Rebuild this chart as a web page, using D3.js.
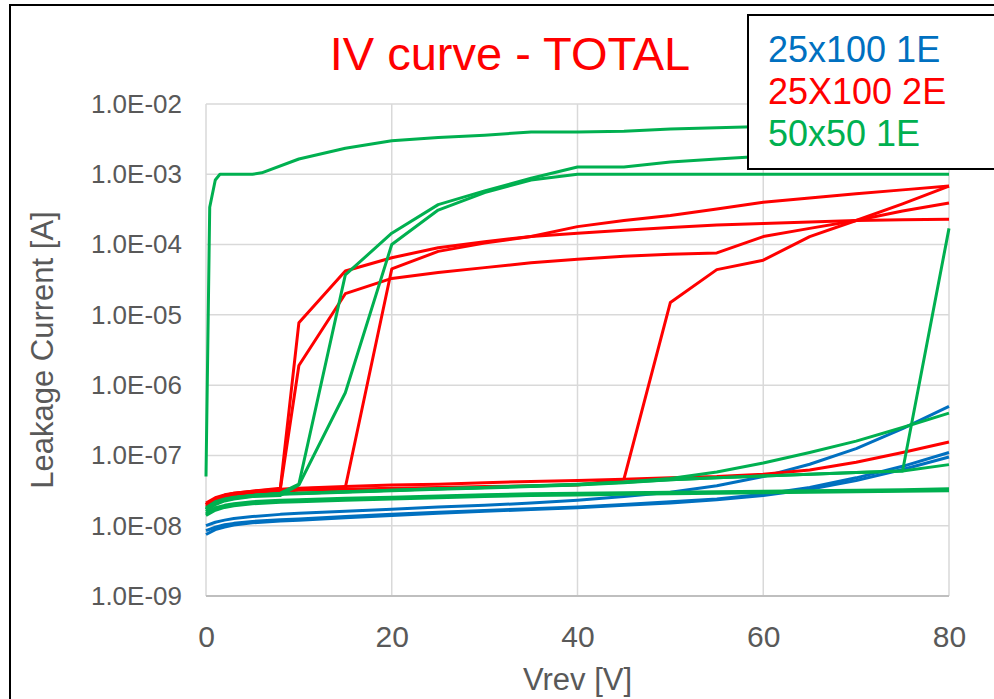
<!DOCTYPE html>
<html>
<head>
	<meta charset="utf-8">
	<title>IV curve - TOTAL</title>
	<script type="text/javascript" src="https://cdn.jsdelivr.net/npm/d3@7"></script>
	<style type="text/css">
		body {
			margin: 0;
			background: #ffffff;
		}
		text {
			font-family: "Liberation Sans", Arial, sans-serif;
		}
	</style>
</head>

<body>
	<div id="svgdiv"></div>

	<script type="text/javascript">
		// sweep voltages (V)
		var vSweep = [0, 1, 2, 3, 5, 8, 10, 15, 20, 25, 30, 35, 40, 45, 50, 55, 60, 65, 70, 75, 80];
		var vFast  = [0, 0.4, 1, 1.5, 5, 6, 10, 15, 20, 25, 30, 35, 40, 45, 50, 55, 60, 65, 70, 75, 80];

		// 25x100 1E (blue)
		var blue1 = [1.0e-8, 1.12e-8, 1.2e-8, 1.27e-8, 1.35e-8, 1.45e-8, 1.5e-8, 1.6e-8, 1.72e-8, 1.85e-8, 1.95e-8, 2.1e-8, 2.3e-8, 2.6e-8, 3.0e-8, 3.7e-8, 5.0e-8, 7.5e-8, 1.25e-7, 2.4e-7, 5.0e-7];
		var blue2 = [8.5e-9, 9.5e-9, 1.03e-8, 1.08e-8, 1.15e-8, 1.22e-8, 1.25e-8, 1.35e-8, 1.45e-8, 1.55e-8, 1.65e-8, 1.75e-8, 1.85e-8, 2.0e-8, 2.2e-8, 2.4e-8, 2.8e-8, 3.5e-8, 4.8e-8, 7.0e-8, 1.1e-7];
		var blue3 = [7.5e-9, 8.8e-9, 9.6e-9, 1.02e-8, 1.1e-8, 1.17e-8, 1.2e-8, 1.3e-8, 1.4e-8, 1.5e-8, 1.6e-8, 1.7e-8, 1.8e-8, 1.95e-8, 2.1e-8, 2.35e-8, 2.7e-8, 3.3e-8, 4.4e-8, 6.3e-8, 9.5e-8];

		// 25X100 2E (red)
		var redA = [2.1e-8, 2.5e-8, 2.75e-8, 2.9e-8, 3.1e-8, 3.4e-8, 7.7e-6, 4.2e-5, 6.5e-5, 9.0e-5, 1.1e-4, 1.3e-4, 1.8e-4, 2.2e-4, 2.6e-4, 3.2e-4, 4.0e-4, 4.6e-4, 5.3e-4, 6.0e-4, 6.8e-4];
		var redB = [1.9e-8, 2.4e-8, 2.65e-8, 2.8e-8, 3.0e-8, 3.3e-8, 1.9e-6, 2.0e-5, 3.3e-5, 4.0e-5, 4.7e-5, 5.5e-5, 6.2e-5, 6.8e-5, 7.3e-5, 7.6e-5, 1.3e-4, 1.7e-4, 2.2e-4, 3.0e-4, 3.9e-4];
		var redC = [2.0e-8, 2.35e-8, 2.6e-8, 2.75e-8, 2.95e-8, 3.1e-8, 3.2e-8, 3.3e-8, 3.4e-8, 3.5e-8, 3.6e-8, 3.7e-8, 3.8e-8, 4.6e-8, 1.5e-5, 4.4e-5, 6.0e-5, 1.3e-4, 2.2e-4, 3.8e-4, 6.8e-4];
		var redD = [2.0e-8, 2.4e-8, 2.7e-8, 2.85e-8, 3.05e-8, 3.25e-8, 3.35e-8, 3.5e-8, 4.5e-5, 8.0e-5, 1.05e-4, 1.3e-4, 1.45e-4, 1.6e-4, 1.75e-4, 1.9e-4, 2.0e-4, 2.1e-4, 2.2e-4, 2.25e-4, 2.3e-4];
		var redE = [2.0e-8, 2.4e-8, 2.7e-8, 2.9e-8, 3.1e-8, 3.3e-8, 3.4e-8, 3.6e-8, 3.8e-8, 3.9e-8, 4.1e-8, 4.25e-8, 4.4e-8, 4.6e-8, 4.8e-8, 5.0e-8, 5.4e-8, 6.2e-8, 8.0e-8, 1.1e-7, 1.55e-7];

		// 50x50 1E (green)
		var green1 = [5.0e-8, 3.4e-4, 8.3e-4, 1.0e-3, 1.0e-3, 1.05e-3, 1.65e-3, 2.35e-3, 3.0e-3, 3.35e-3, 3.6e-3, 4.0e-3, 4.0e-3, 4.1e-3, 4.4e-3, 4.6e-3, 4.8e-3, 5.0e-3, 5.2e-3, 5.4e-3, 5.6e-3];
		var green2 = [1.7e-8, 2.1e-8, 2.35e-8, 2.5e-8, 2.7e-8, 2.9e-8, 3.9e-8, 3.7e-5, 1.45e-4, 3.7e-4, 5.8e-4, 8.8e-4, 1.27e-3, 1.27e-3, 1.5e-3, 1.65e-3, 1.8e-3, 1.9e-3, 2.0e-3, 2.1e-3, 2.2e-3];
		var green3 = [1.6e-8, 2.0e-8, 2.25e-8, 2.4e-8, 2.6e-8, 2.7e-8, 3.8e-8, 7.8e-7, 1.0e-4, 3.1e-4, 5.5e-4, 8.3e-4, 1.0e-3, 1.0e-3, 1.0e-3, 1.0e-3, 1.0e-3, 1.0e-3, 1.0e-3, 1.0e-3, 1.0e-3];
		var green4 = [1.7e-8, 2.1e-8, 2.3e-8, 2.45e-8, 2.65e-8, 2.8e-8, 2.85e-8, 3.0e-8, 3.15e-8, 3.3e-8, 3.45e-8, 3.6e-8, 3.8e-8, 4.1e-8, 4.5e-8, 4.8e-8, 5.1e-8, 5.4e-8, 5.7e-8, 6.0e-8, 1.7e-4];
		var green5 = [1.8e-8, 2.2e-8, 2.4e-8, 2.55e-8, 2.7e-8, 2.85e-8, 2.9e-8, 3.05e-8, 3.2e-8, 3.35e-8, 3.5e-8, 3.7e-8, 3.9e-8, 4.2e-8, 4.7e-8, 5.8e-8, 7.8e-8, 1.1e-7, 1.6e-7, 2.5e-7, 4.0e-7];
		var green6 = [1.75e-8, 2.15e-8, 2.35e-8, 2.5e-8, 2.7e-8, 2.85e-8, 2.9e-8, 3.05e-8, 3.2e-8, 3.35e-8, 3.5e-8, 3.65e-8, 3.85e-8, 4.15e-8, 4.5e-8, 4.8e-8, 5.1e-8, 5.4e-8, 5.7e-8, 6.0e-8, 7.4e-8];
		var green7 = [1.5e-8, 1.8e-8, 1.95e-8, 2.05e-8, 2.2e-8, 2.3e-8, 2.35e-8, 2.45e-8, 2.55e-8, 2.65e-8, 2.75e-8, 2.85e-8, 2.9e-8, 2.95e-8, 3.0e-8, 3.05e-8, 3.1e-8, 3.15e-8, 3.2e-8, 3.25e-8, 3.35e-8];
		var green8 = [1.45e-8, 1.72e-8, 1.88e-8, 1.98e-8, 2.12e-8, 2.22e-8, 2.28e-8, 2.38e-8, 2.48e-8, 2.58e-8, 2.68e-8, 2.76e-8, 2.82e-8, 2.88e-8, 2.93e-8, 2.98e-8, 3.03e-8, 3.08e-8, 3.13e-8, 3.18e-8, 3.25e-8];
		var green9 = [1.4e-8, 1.66e-8, 1.82e-8, 1.92e-8, 2.05e-8, 2.15e-8, 2.2e-8, 2.3e-8, 2.4e-8, 2.5e-8, 2.6e-8, 2.68e-8, 2.74e-8, 2.8e-8, 2.85e-8, 2.9e-8, 2.95e-8, 3.0e-8, 3.05e-8, 3.1e-8, 3.15e-8];

		// tick labels
		var xTicks = [0, 20, 40, 60, 80];
		var yTicks = [1e-9, 1e-8, 1e-7, 1e-6, 1e-5, 1e-4, 1e-3, 1e-2];
		var legendNames = ["25x100 1E", "25X100 2E", "50x50 1E"];
		var legendColors = ["#0070c0", "#ff0000", "#00b050"];

		// draw order: blue, red, green
		var curves = [
			{v: vSweep, i: blue1, c: 0}, {v: vSweep, i: blue2, c: 0}, {v: vSweep, i: blue3, c: 0},
			{v: vSweep, i: redE, c: 1}, {v: vSweep, i: redC, c: 1}, {v: vSweep, i: redD, c: 1},
			{v: vSweep, i: redB, c: 1}, {v: vSweep, i: redA, c: 1},
			{v: vSweep, i: green9, c: 2}, {v: vSweep, i: green8, c: 2}, {v: vSweep, i: green7, c: 2},
			{v: vSweep, i: green6, c: 2}, {v: vSweep, i: green5, c: 2}, {v: vSweep, i: green4, c: 2},
			{v: vSweep, i: green3, c: 2}, {v: vSweep, i: green2, c: 2}, {v: vFast, i: green1, c: 2}
		];

		var w = 994;
		var h = 699;
		// plot area ("top" is taken by window.top, so prefixed names)
		var plotLeft = 206, plotRight = 949, plotTop = 104, plotBottom = 596;
		var grey = "#595959";

		var svg = d3.select("#svgdiv")
					.append("svg")
					.attr("width", w)
					.attr("height", h);

		var xscale = d3.scaleLinear().domain([0, 80]).range([plotLeft, plotRight]);
		var yscale = d3.scaleLog().domain([1e-9, 1e-2]).range([plotBottom, plotTop]);

		// gridlines
		svg.append("g")
			.selectAll("line")
			.data(yTicks.slice(1))
			.enter()
			.append("line")
			.attr("x1", plotLeft).attr("x2", plotRight)
			.attr("y1", function(d){ return yscale(d); })
			.attr("y2", function(d){ return yscale(d); })
			.attr("stroke", "#d9d9d9")
			.attr("stroke-width", 1.5);

		svg.append("g")
			.selectAll("line")
			.data(xTicks)
			.enter()
			.append("line")
			.attr("x1", function(d){ return xscale(d); })
			.attr("x2", function(d){ return xscale(d); })
			.attr("y1", plotTop).attr("y2", plotBottom)
			.attr("stroke", "#d9d9d9")
			.attr("stroke-width", 1.5);

		// bottom axis line
		svg.append("line")
			.attr("x1", plotLeft).attr("x2", plotRight)
			.attr("y1", plotBottom).attr("y2", plotBottom)
			.attr("stroke", "#bfbfbf")
			.attr("stroke-width", 2);

		// axes (labels only)
		var xAxis = d3.axisBottom(xscale)
			.tickValues(xTicks)
			.tickSize(0)
			.tickPadding(30);
		var yAxis = d3.axisLeft(yscale)
			.tickValues(yTicks)
			.tickSize(0)
			.tickPadding(24)
			.tickFormat(function(d){
				var e = Math.round(-Math.log10(d));
				return "1.0E-" + (e < 10 ? "0" + e : e);
			});

		var gx = svg.append("g")
			.attr("transform", "translate(0," + plotBottom + ")")
			.call(xAxis);
		var gy = svg.append("g")
			.attr("transform", "translate(" + plotLeft + ",0)")
			.call(yAxis);

		gx.select(".domain").remove();
		gy.select(".domain").remove();
		gx.selectAll("text")
			.attr("font-family", "Liberation Sans, Arial, sans-serif")
			.attr("font-size", 30)
			.attr("fill", grey);
		gy.selectAll("text")
			.attr("font-family", "Liberation Sans, Arial, sans-serif")
			.attr("font-size", 26)
			.attr("fill", grey);

		// curves
		var line = d3.line()
			.x(function(d){ return xscale(d[0]); })
			.y(function(d){ return yscale(d[1]); });

		svg.append("g")
			.selectAll("path")
			.data(curves)
			.enter()
			.append("path")
			.attr("d", function(s){
				return line(s.v.map(function(v, k){ return [v, s.i[k]]; }));
			})
			.attr("fill", "none")
			.attr("stroke", function(s){ return legendColors[s.c]; })
			.attr("stroke-width", 3)
			.attr("stroke-linejoin", "round");

		// title and axis titles
		svg.append("text")
			.text("IV curve - TOTAL")
			.attr("x", 510)
			.attr("y", 70)
			.attr("text-anchor", "middle")
			.attr("font-size", 47)
			.attr("fill", "#ff0000");

		svg.append("text")
			.text("Leakage Current [A]")
			.attr("transform", "translate(53," + ((plotTop + plotBottom) / 2) + ") rotate(-90)")
			.attr("text-anchor", "middle")
			.attr("font-size", 31)
			.attr("fill", grey);

		svg.append("text")
			.text("Vrev [V]")
			.attr("x", (plotLeft + plotRight) / 2)
			.attr("y", 690)
			.attr("text-anchor", "middle")
			.attr("font-size", 31)
			.attr("fill", grey);

		// legend box
		svg.append("rect")
			.attr("x", 748)
			.attr("y", 15)
			.attr("width", 260)
			.attr("height", 154)
			.attr("fill", "#ffffff")
			.attr("stroke", "#000000")
			.attr("stroke-width", 2);

		svg.selectAll(".legend")
			.data(legendNames)
			.enter()
			.append("text")
			.attr("class", "legend")
			.attr("x", 768)
			.attr("y", function(d, i){ return 62 + i * 42; })
			.attr("font-size", 36)
			.attr("fill", function(d, i){ return legendColors[i]; })
			.text(function(d){ return d; });

		// chart border
		svg.append("rect")
			.attr("x", 10)
			.attr("y", 5)
			.attr("width", 1000)
			.attr("height", 720)
			.attr("fill", "none")
			.attr("stroke", "#000000")
			.attr("stroke-width", 2);
	</script>
</body>
</html>
